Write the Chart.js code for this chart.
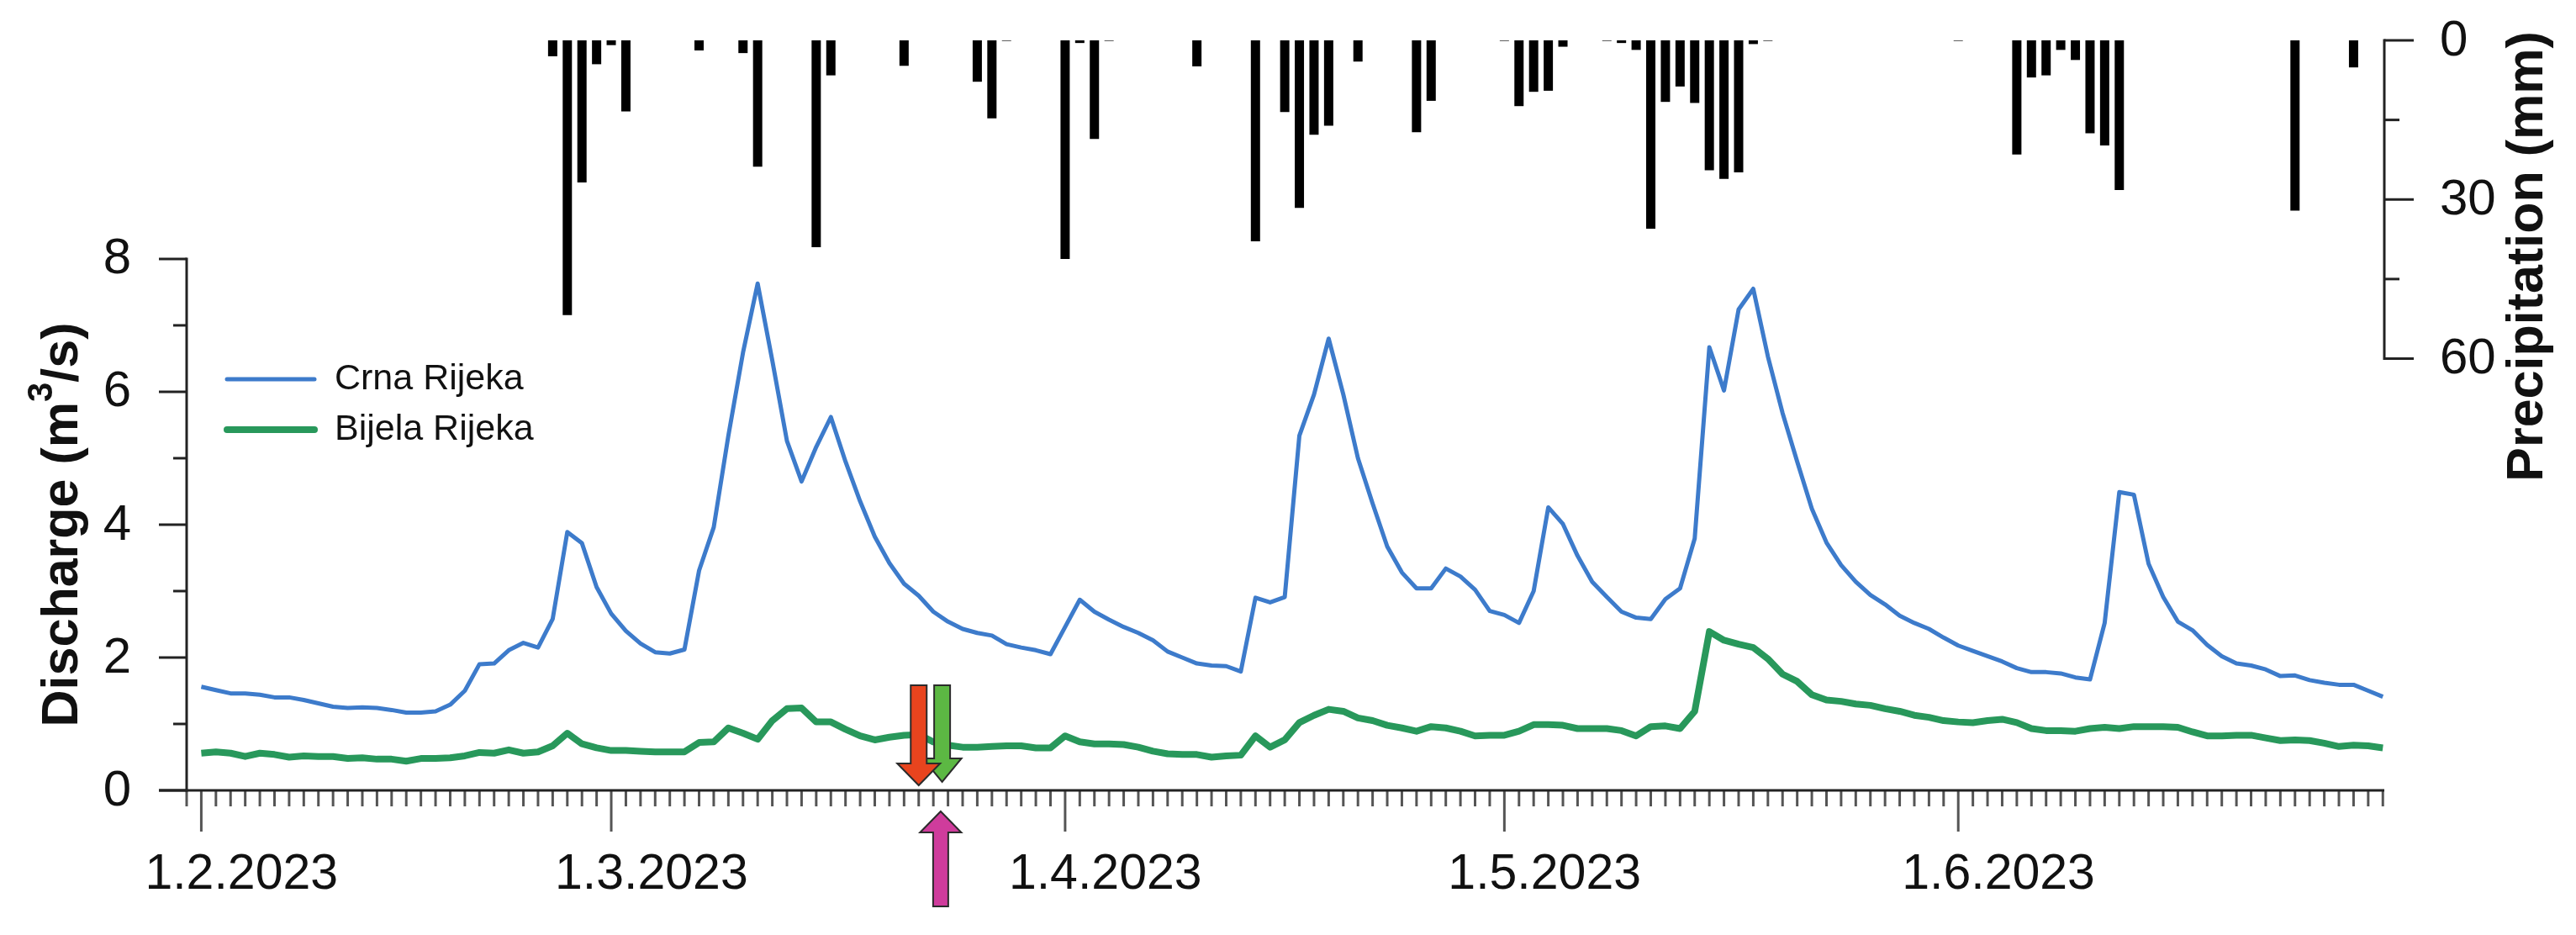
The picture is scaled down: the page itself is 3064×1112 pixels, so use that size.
<!DOCTYPE html>
<html>
<head>
<meta charset="utf-8">
<script src="https://cdn.jsdelivr.net/npm/chart.js@4.4.1/dist/chart.umd.min.js"></script>
<style>
    html, body { margin: 0; padding: 0; background: #fff; }
    canvas { display: block; }
</style>
</head>
<body>
<canvas id="flowChart" width="3064" height="1112"></canvas>
<script>
// Daily values, day 0 = 1.2.2023 ... day 149 = 30.6.2023
const crnaRijeka = [
    1.56, 1.51, 1.46, 1.46, 1.44, 1.40, 1.40, 1.36, 1.31, 1.26,
    1.24, 1.25, 1.24, 1.21, 1.17, 1.17, 1.19, 1.29, 1.50, 1.90,
    1.91, 2.11, 2.22, 2.15, 2.58, 3.89, 3.72, 3.06, 2.66, 2.40,
    2.21, 2.08, 2.06, 2.12, 3.31, 3.96, 5.34, 6.59, 7.63, 6.47,
    5.26, 4.65, 5.17, 5.62, 4.95, 4.35, 3.82, 3.42, 3.11, 2.93,
    2.69, 2.54, 2.43, 2.37, 2.33, 2.20, 2.15, 2.11, 2.05, 2.46,
    2.87, 2.69, 2.57, 2.46, 2.37, 2.26, 2.09, 2.00, 1.91, 1.88,
    1.87, 1.79, 2.90, 2.83, 2.91, 5.34, 5.96, 6.80, 5.96, 5.00,
    4.32, 3.67, 3.28, 3.04, 3.04, 3.34, 3.22, 3.02, 2.70, 2.64,
    2.52, 3.00, 4.26, 4.01, 3.53, 3.14, 2.91, 2.69, 2.60, 2.58,
    2.88, 3.04, 3.79, 6.67, 6.02, 7.24, 7.55, 6.53, 5.68, 4.95,
    4.24, 3.73, 3.39, 3.14, 2.94, 2.80, 2.63, 2.52, 2.43, 2.30,
    2.18, 2.10, 2.02, 1.94, 1.84, 1.78, 1.78, 1.76, 1.70, 1.67,
    2.52, 4.49, 4.45, 3.41, 2.91, 2.54, 2.41, 2.19, 2.02, 1.91,
    1.88, 1.82, 1.72, 1.73, 1.66, 1.62, 1.59, 1.59, 1.50, 1.41
];
const bijelaRijeka = [
    0.56, 0.58, 0.56, 0.51, 0.56, 0.54, 0.50, 0.52, 0.51, 0.51,
    0.48, 0.49, 0.47, 0.47, 0.44, 0.48, 0.48, 0.49, 0.52, 0.57,
    0.56, 0.61, 0.56, 0.58, 0.67, 0.86, 0.70, 0.64, 0.60, 0.60,
    0.59, 0.58, 0.58, 0.58, 0.72, 0.73, 0.94, 0.86, 0.77, 1.05,
    1.23, 1.24, 1.03, 1.03, 0.92, 0.82, 0.76, 0.80, 0.83, 0.84,
    0.73, 0.68, 0.65, 0.65, 0.66, 0.67, 0.67, 0.64, 0.64, 0.82,
    0.73, 0.70, 0.70, 0.69, 0.65, 0.59, 0.55, 0.54, 0.54, 0.50,
    0.52, 0.53, 0.82, 0.65, 0.76, 1.02, 1.13, 1.22, 1.19, 1.09,
    1.05, 0.98, 0.94, 0.89, 0.96, 0.94, 0.89, 0.82, 0.83, 0.83,
    0.89, 0.99, 0.99, 0.98, 0.93, 0.93, 0.93, 0.90, 0.82, 0.96,
    0.97, 0.93, 1.19, 2.39, 2.26, 2.20, 2.15, 1.98, 1.75, 1.64,
    1.44, 1.36, 1.34, 1.30, 1.28, 1.23, 1.19, 1.13, 1.10, 1.05,
    1.03, 1.02, 1.05, 1.07, 1.02, 0.93, 0.90, 0.90, 0.89, 0.93,
    0.95, 0.93, 0.96, 0.96, 0.96, 0.95, 0.88, 0.82, 0.82, 0.83,
    0.83, 0.79, 0.75, 0.76, 0.75, 0.71, 0.66, 0.68, 0.67, 0.64
];
// precipitation in mm
const precipitation = [
    0, 0, 0, 0, 0, 0, 0, 0, 0, 0,
    0, 0, 0, 0, 0, 0, 0, 0, 0, 0,
    0, 0, 0, 0, 3.0, 51.8, 26.8, 4.5, 0.9, 13.4,
    0, 0, 0, 0, 1.9, 0, 0, 2.4, 23.8, 0,
    0, 0, 39.0, 6.6, 0, 0, 0, 0, 4.8, 0,
    0, 0, 0, 7.8, 14.7, 0.1, 0, 0, 0, 41.2,
    0.5, 18.6, 0.1, 0, 0, 0, 0, 0, 4.9, 0,
    0, 0, 37.9, 0, 13.5, 31.6, 17.8, 16.1, 0, 4.0,
    0, 0, 0, 17.3, 11.4, 0, 0, 0, 0, 0.1,
    12.4, 9.7, 9.5, 1.2, 0, 0, 0.1, 0.5, 1.8, 35.5,
    11.6, 8.7, 11.8, 24.5, 26.1, 24.9, 0.7, 0.1, 0, 0,
    0, 0, 0, 0, 0, 0, 0, 0, 0, 0,
    0.1, 0, 0, 0, 21.5, 7.0, 6.6, 1.8, 3.7, 17.5,
    19.8, 28.2, 0, 0, 0, 0, 0, 0, 0, 0,
    0, 0, 0, 32.1, 0, 0, 0, 5.1, 0, 0
];
const days = crnaRijeka.map((_, i) => i);

const monthTickDays = [0, 28, 59, 89, 120];
const monthTickLabels = ['1.2.2023', '1.3.2023', '1.4.2023', '1.5.2023', '1.6.2023'];
const dischargeTicks = [0, 2, 4, 6, 8];
const dischargeMinorTicks = [1, 3, 5, 7];
const precipTicks = [0, 30, 60];
const precipMinorTicks = [15, 45];
// marker arrows (day): red down, green down, magenta up
const arrowDays = [49, 50.6, 50.5];

const FONT = '"Liberation Sans", Arial, sans-serif';

function strokeLine(ctx, x1, y1, x2, y2) {
    ctx.beginPath();
    ctx.moveTo(x1, y1);
    ctx.lineTo(x2, y2);
    ctx.stroke();
}

function drawArrow(ctx, cx, tipY, headY, endY, shaftW, headW, fill) {
    ctx.beginPath();
    ctx.moveTo(cx - shaftW / 2, endY);
    ctx.lineTo(cx + shaftW / 2, endY);
    ctx.lineTo(cx + shaftW / 2, headY);
    ctx.lineTo(cx + headW / 2, headY);
    ctx.lineTo(cx, tipY);
    ctx.lineTo(cx - headW / 2, headY);
    ctx.lineTo(cx - shaftW / 2, headY);
    ctx.closePath();
    ctx.fillStyle = fill;
    ctx.fill();
    ctx.strokeStyle = '#2b2b2b';
    ctx.lineWidth = 2;
    ctx.lineJoin = 'miter';
    ctx.stroke();
}

// axes, legend and arrows drawn on top of the chart using the chart's scales
const hydroAxes = {
    id: 'hydroAxes',
    afterDatasetsDraw(chart) {
        const { ctx, scales: { x, yQ, yP } } = chart;
        const y0 = yQ.getPixelForValue(0);
        ctx.save();
        ctx.lineCap = 'butt';

        // day ticks
        ctx.strokeStyle = '#555';
        ctx.lineWidth = 3;
        for (let d = -1; d < days.length; d++) {
            const px = x.getPixelForValue(d);
            const len = monthTickDays.includes(d) ? 49 : 19;
            strokeLine(ctx, px, y0, px, y0 + len);
        }
        // x axis line (continues into the 0 tick of the left axis)
        ctx.strokeStyle = '#222';
        strokeLine(ctx, x.left - 33, y0, x.right, y0);

        ctx.fillStyle = '#111';
        ctx.font = '59px ' + FONT;
        ctx.textAlign = 'left';
        ctx.textBaseline = 'alphabetic';
        monthTickDays.forEach((d, i) => {
            ctx.fillText(monthTickLabels[i], x.getPixelForValue(d) - 67, y0 + 117);
        });

        // left axis
        ctx.strokeStyle = '#222';
        strokeLine(ctx, x.left, y0 + 1.5, x.left, yQ.getPixelForValue(8) - 1.5);
        dischargeTicks.forEach(v => {
            const py = yQ.getPixelForValue(v);
            strokeLine(ctx, x.left - 33, py, x.left, py);
        });
        dischargeMinorTicks.forEach(v => {
            const py = yQ.getPixelForValue(v);
            strokeLine(ctx, x.left - 16, py, x.left, py);
        });
        ctx.font = '60px ' + FONT;
        ctx.textAlign = 'right';
        ctx.textBaseline = 'middle';
        dischargeTicks.forEach(v => {
            ctx.fillText(String(v), x.left - 66, yQ.getPixelForValue(v) + 1);
        });

        // left title with superscript
        ctx.save();
        ctx.translate(92, (yQ.getPixelForValue(0) + yQ.getPixelForValue(8)) / 2);
        ctx.rotate(-Math.PI / 2);
        ctx.textBaseline = 'alphabetic';
        ctx.textAlign = 'left';
        const bold = 'bold 61px ' + FONT;
        const supFont = 'bold 42px ' + FONT;
        const t1 = 'Discharge (m', t2 = '3', t3 = '/s)';
        ctx.font = bold;
        const w1 = ctx.measureText(t1).width, w3 = ctx.measureText(t3).width;
        ctx.font = supFont;
        const w2 = ctx.measureText(t2).width;
        let tx = -(w1 + w2 + w3) / 2;
        ctx.font = bold;
        ctx.fillText(t1, tx, 0);
        tx += w1;
        ctx.font = supFont;
        ctx.fillText(t2, tx, -30);
        tx += w2;
        ctx.font = bold;
        ctx.fillText(t3, tx, 0);
        ctx.restore();

        // right axis (precipitation, top part)
        const xr = x.right;
        ctx.strokeStyle = '#222';
        ctx.lineWidth = 3;
        strokeLine(ctx, xr, yP.getPixelForValue(0) - 1.5, xr, yP.getPixelForValue(60) + 1.5);
        precipTicks.forEach(v => {
            const py = yP.getPixelForValue(v);
            strokeLine(ctx, xr, py, xr + 35, py);
        });
        precipMinorTicks.forEach(v => {
            const py = yP.getPixelForValue(v);
            strokeLine(ctx, xr, py, xr + 18, py);
        });
        ctx.font = '60px ' + FONT;
        ctx.textAlign = 'left';
        ctx.textBaseline = 'middle';
        precipTicks.forEach(v => {
            ctx.fillText(String(v), xr + 66, yP.getPixelForValue(v) + 1);
        });
        ctx.save();
        ctx.translate(3024, 305);
        ctx.rotate(-Math.PI / 2);
        ctx.font = 'bold 61px ' + FONT;
        ctx.textAlign = 'center';
        ctx.textBaseline = 'alphabetic';
        ctx.fillText('Precipitation (mm)', 0, 0);
        ctx.restore();

        // legend
        const legendRows = [451, 511];
        chart.data.datasets.filter(ds => ds.type === 'line').forEach((ds, i) => {
            const ly = legendRows[i];
            ctx.strokeStyle = ds.borderColor;
            ctx.lineWidth = ds.borderWidth;
            ctx.lineCap = 'round';
            strokeLine(ctx, 270, ly, 374, ly);
            ctx.fillStyle = '#111';
            ctx.font = '43px ' + FONT;
            ctx.textAlign = 'left';
            ctx.textBaseline = 'middle';
            ctx.fillText(ds.label, 398, ly);
        });

        // arrows
        const [redDay, greenDay, pinkDay] = arrowDays;
        drawArrow(ctx, x.getPixelForValue(greenDay), y0 - 10, y0 - 38, y0 - 125, 19, 46, '#5cb843');
        drawArrow(ctx, x.getPixelForValue(redDay), y0 - 6, y0 - 32, y0 - 125, 19, 51, '#e8441e');
        drawArrow(ctx, x.getPixelForValue(pinkDay), y0 + 25, y0 + 50, y0 + 138, 18, 49, '#cf3c9c');

        ctx.restore();
    }
};

new Chart(document.getElementById('flowChart'), {
    type: 'line',
    data: {
        datasets: [{
            type: 'bar',
            label: 'Precipitation',
            // dry days are left out so no zero-height bars are drawn
            data: days.filter(d => precipitation[d] > 0).map(d => ({ x: d, y: precipitation[d] })),
            yAxisID: 'yP',
            backgroundColor: '#000',
            borderWidth: 0,
            inflateAmount: 0,
            barThickness: 11,
            order: 3
        }, {
            type: 'line',
            label: 'Crna Rijeka',
            data: days.map(d => ({ x: d, y: crnaRijeka[d] })),
            yAxisID: 'yQ',
            borderColor: '#3d7bcb',
            borderWidth: 5,
            pointRadius: 0,
            tension: 0,
            borderJoinStyle: 'round',
            order: 2
        }, {
            type: 'line',
            label: 'Bijela Rijeka',
            data: days.map(d => ({ x: d, y: bijelaRijeka[d] })),
            yAxisID: 'yQ',
            borderColor: '#28985b',
            borderWidth: 8,
            pointRadius: 0,
            tension: 0,
            borderJoinStyle: 'round',
            order: 1
        }]
    },
    options: {
        responsive: false,
        animation: false,
        devicePixelRatio: 1,
        layout: { padding: { left: 222, right: 228, top: 48, bottom: 172 } },
        plugins: {
            legend: { display: false },
            tooltip: { enabled: false }
        },
        scales: {
            x: { type: 'linear', min: -1.0, max: 149.1, offset: false, display: false },
            yQ: { type: 'linear', position: 'left', min: 0, max: 11.29, display: false },
            yP: { type: 'linear', position: 'right', reverse: true, min: 0, max: 141.4, display: false }
        }
    },
    plugins: [hydroAxes]
});
</script>
</body>
</html>
